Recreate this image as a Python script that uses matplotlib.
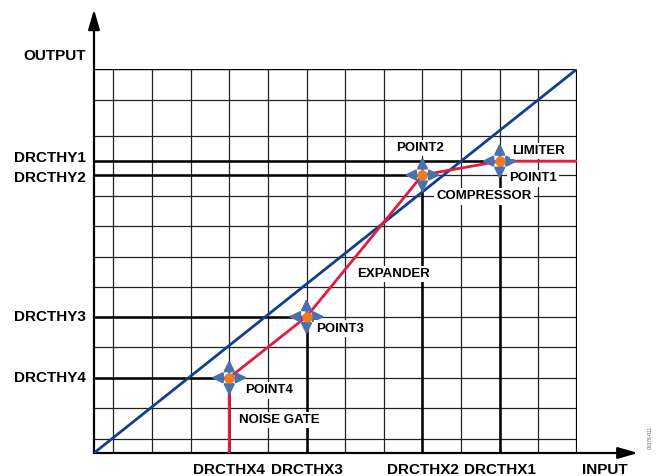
import matplotlib
matplotlib.use("Agg")
import matplotlib.pyplot as plt
from matplotlib.transforms import offset_copy

plt.rcParams['font.family'] = ['Liberation Sans', 'DejaVu Sans']

# grid lines (input / output in % of full scale)
grid_x = [4, 12, 20, 28, 36, 44, 52, 60, 68, 76, 84, 92, 100]
grid_y = [3.6, 11.7, 19.6, 27.6, 35.5, 43.2, 51.0, 59.1, 66.9, 72.4, 76.0, 82.6, 91.9, 100]

# thresholds
thr_x = [28, 44, 68, 84]
thr_x_labels = ["DRCTHX4", "DRCTHX3", "DRCTHX2", "DRCTHX1"]
thr_y = [19.6, 35.5, 72.4, 76.0]
thr_y_labels = ["DRCTHY4", "DRCTHY3", "DRCTHY2", "DRCTHY1"]

# transfer curve (red) and unity line (blue)
curve_x = [28, 28, 44, 68, 84, 100]
curve_y = [0, 19.6, 35.5, 72.4, 76.0, 76.0]
unity_x = [0, 100]
unity_y = [0, 100]

# region / point labels
labels = ["POINT4", "POINT3", "POINT2", "POINT1",
          "LIMITER", "COMPRESSOR", "EXPANDER", "NOISE GATE"]
label_x = [36.2, 50.9, 67.5, 90.9, 92.1, 80.7, 62.1, 38.3]
label_y = [16.3, 32.4, 79.4, 71.5, 78.6, 66.8, 46.7, 8.5]

RED = "#e31b3f"
BLUE = "#123f8c"
ARROW = "#4a70ad"
DOT = "#f27a24"

fig = plt.figure(figsize=(6.6, 4.76), dpi=100)
ax = fig.add_axes([94 / 660, 23 / 476, 483 / 660, 384 / 476])
ax.set_xlim(0, 100)
ax.set_ylim(0, 100)
ax.axis("off")

# grid
for gx in grid_x:
    ax.plot([gx, gx], [0, 100], color="#222222", lw=0.9, zorder=1)
for gy in grid_y:
    ax.plot([0, 100], [gy, gy], color="#222222", lw=0.9, zorder=1)
ax.plot([0, 100], [100, 100], color="black", lw=1.6, zorder=1)
ax.plot([100, 100], [0, 100], color="black", lw=1.6, zorder=1)

# threshold lines, heavier from the axes to each point
for tx, ty in zip(thr_x, thr_y):
    ax.plot([tx, tx], [0, ty], color="black", lw=1.8, zorder=2)
    ax.plot([0, tx], [ty, ty], color="black", lw=1.8, zorder=2)

# axes with arrows
ax.annotate("", xy=(0, 115.5), xytext=(0, 0), annotation_clip=False,
            arrowprops=dict(arrowstyle="-|>,head_length=1.2,head_width=0.35",
                            color="black", lw=1.6, shrinkA=0, shrinkB=0,
                            mutation_scale=10))
ax.annotate("", xy=(112.6, 0), xytext=(0, 0), annotation_clip=False,
            arrowprops=dict(arrowstyle="-|>,head_length=1.2,head_width=0.35",
                            color="black", lw=1.6, shrinkA=0, shrinkB=0,
                            mutation_scale=10))

ax.plot(unity_x, unity_y, color=BLUE, lw=2.0, zorder=3, solid_capstyle="butt")
ax.plot(curve_x, curve_y, color=RED, lw=2.0, zorder=4, solid_capstyle="butt")

# the four points with arrows
pts_x = curve_x[1:5]
pts_y = curve_y[1:5]
for px, py in zip(pts_x, pts_y):
    for dx, dy in [(1, 0), (-1, 0), (0, 1), (0, -1)]:
        ax.annotate("", xy=(px, py), xytext=(dx * 18, dy * 18),
                    textcoords="offset pixels",
                    arrowprops=dict(arrowstyle="<|-,head_length=0.65,head_width=0.32",
                                    color=ARROW, lw=1.6, shrinkA=0, shrinkB=0,
                                    mutation_scale=10),
                    zorder=5)
    ax.plot(px, py, "o", ms=6.5, color=DOT, mec=DOT, zorder=6)

bbox = dict(facecolor="white", edgecolor="none", pad=1.5)
for t, lx, ly in zip(labels, label_x, label_y):
    ax.text(lx, ly, t, fontsize=9.5, fontweight="bold", ha="center", va="center",
            bbox=bbox, zorder=7)

# axis labels
nudge = [0, 0, -2, 2]
for ty, t, n in zip(thr_y, thr_y_labels, nudge):
    tr = offset_copy(ax.transData, fig=fig, x=0, y=n, units="points")
    ax.text(-1.6, ty, t, fontsize=11, fontweight="bold", ha="right", va="center",
            transform=tr, clip_on=False)
for tx, t in zip(thr_x, thr_x_labels):
    ax.text(tx, -4.3, t, fontsize=11, fontweight="bold", ha="center", va="center",
            clip_on=False)
ax.text(105.8, -4.3, "INPUT", fontsize=11, fontweight="bold", ha="center",
        va="center", clip_on=False)
ax.text(-1.6, 103.4, "OUTPUT", fontsize=11, fontweight="bold", ha="right",
        va="center", clip_on=False)

fig.text(0.985, 0.08, "08378-011", rotation=90, fontsize=3.5, color="#666666",
         ha="center", va="center")

fig.savefig("out.png", dpi=100)
